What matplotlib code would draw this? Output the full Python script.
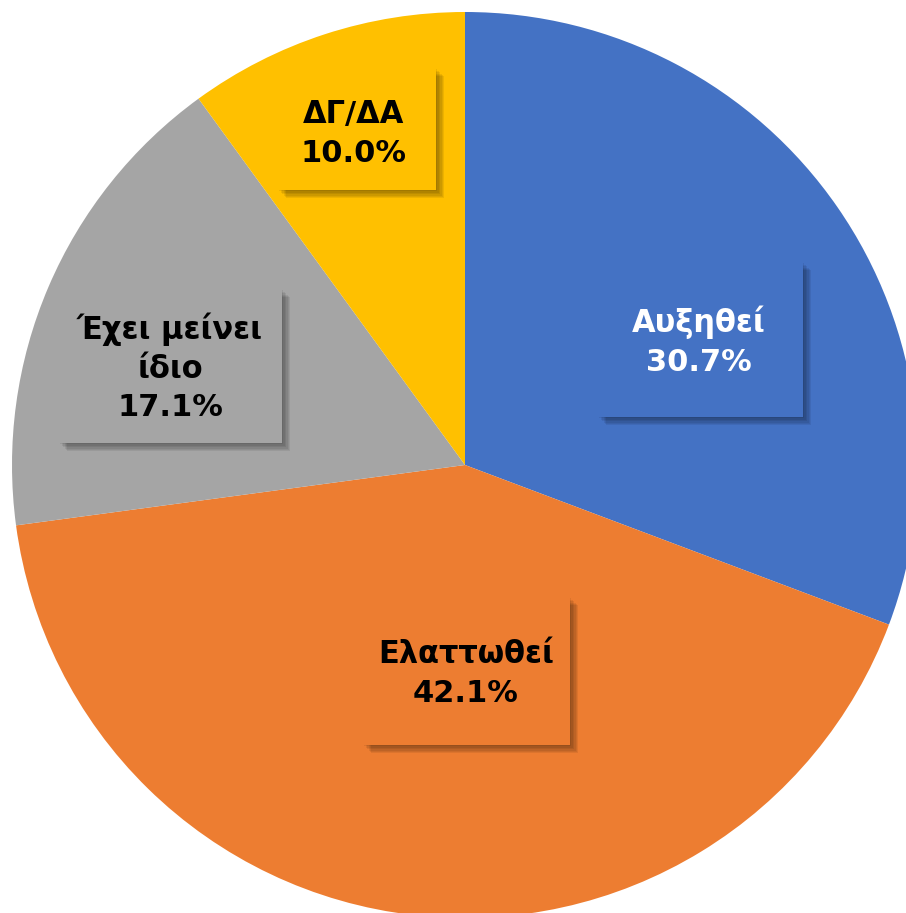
import matplotlib.pyplot as plt
import matplotlib.patheffects as pe
from matplotlib.patches import Rectangle

labels = ['Αυξηθεί', 'Ελαττωθεί', 'Έχει μείνει\nίδιο', 'ΔΓ/ΔΑ']
values = [30.7, 42.1, 17.1, 10.0]
colors = ['#4472C4', '#ED7D31', '#A5A5A5', '#FFC000']
text_colors = ['white', 'black', 'black', 'black']

# label layout in pixels (y measured from the bottom): text centre, box (x0, y0, w, h)
text_pos = [(699, 572), (466, 239), (170, 546), (354, 779)]
boxes = [(598, 496, 205, 155), (363, 168, 207, 148), (59, 470, 223, 154), (278, 723, 158, 122)]

fig = plt.figure(figsize=(9.06, 9.13), dpi=100)
ax = fig.add_axes([0, 0, 1, 1])

ax.pie(values, colors=colors, startangle=90, counterclock=False,
       center=(465, 448), radius=453, frame=True)
ax.set_xlim(0, 906)
ax.set_ylim(0, 913)
ax.axis('off')

# soft drop shadow made of several faint offset copies
shadow = [pe.SimplePatchShadow(offset=(d, -d), shadow_rgbFace='black', alpha=0.07)
          for d in range(1, 7)]

for lab, val, col, tc, (x, y), (bx, by, bw, bh) in zip(labels, values, colors,
                                                      text_colors, text_pos, boxes):
    r = Rectangle((bx, by), bw, bh, facecolor=col, edgecolor='none', zorder=3)
    r.set_path_effects(shadow + [pe.Normal()])
    ax.add_patch(r)
    ax.text(x, y, f'{lab}\n{val:.1f}%', ha='center', va='center',
            fontsize=22, fontweight='bold', color=tc, zorder=4,
            family=['DejaVu Sans'], linespacing=1.4)

fig.savefig('out.png', dpi=100)
